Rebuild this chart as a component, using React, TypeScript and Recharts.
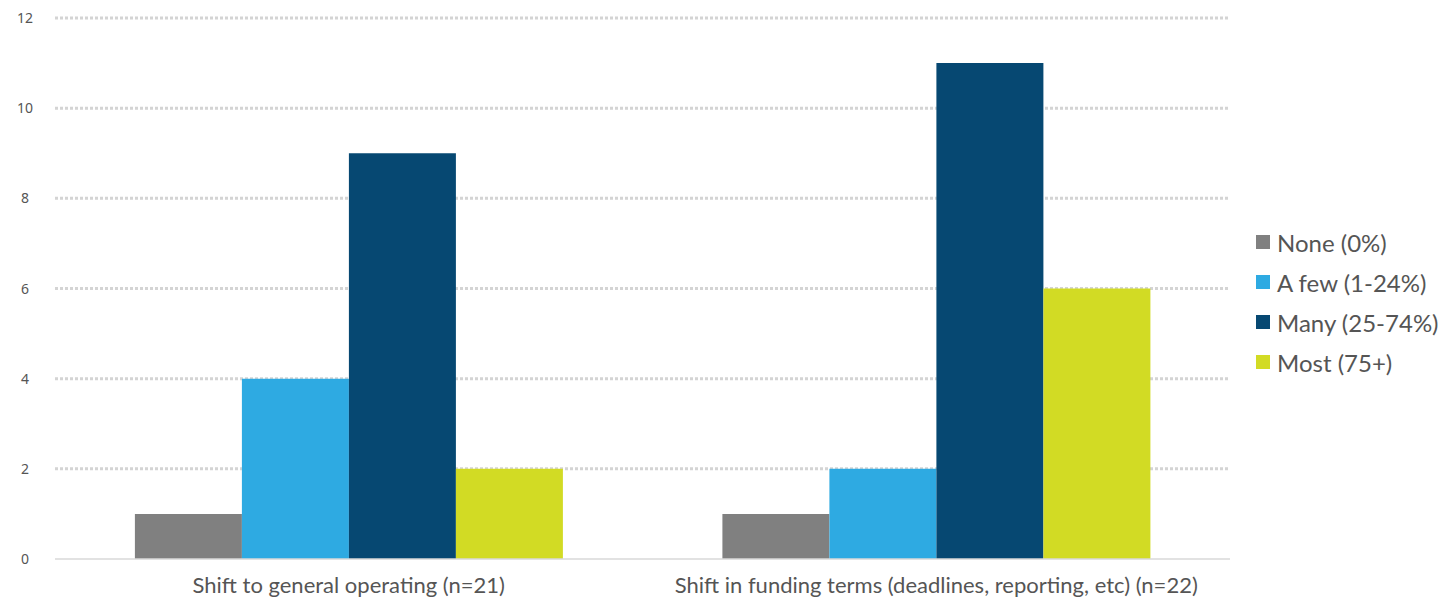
import { Bar, BarChart, CartesianGrid, Legend, XAxis, YAxis } from "recharts";

const categories = [
  "Shift to general operating (n=21)",
  "Shift in funding terms (deadlines, reporting, etc) (n=22)",
];
const noneValues = [1, 1];
const fewValues = [4, 2];
const manyValues = [9, 11];
const mostValues = [2, 6];
const yTicks = [0, 2, 4, 6, 8, 10, 12];
// dotted guides above the baseline; the baseline itself is the solid axis line
const gridValues = [2, 4, 6, 8, 10, 12];

const SERIES = [
  { key: "none", name: "None (0%)", color: "#808080" },
  { key: "few", name: "A few (1-24%)", color: "#2eaae2" },
  { key: "many", name: "Many (25-74%)", color: "#064872" },
  { key: "most", name: "Most (75+)", color: "#d2db24" },
];

const data = categories.map((name, i) => ({
  name,
  none: noneValues[i],
  few: fewValues[i],
  many: manyValues[i],
  most: mostValues[i],
}));

const TEXT_COLOR = "#555555";
const LABEL_FONT = "Lato, 'Open Sans', sans-serif";
const LEGEND_WIDTH = 184;

function YTick({ y, payload }: { y?: number; payload?: { value: number } }) {
  return (
    <text
      x={25}
      y={y}
      dy={5}
      textAnchor="middle"
      fill={TEXT_COLOR}
      fontSize={14}
      fontFamily="'Noto Sans', sans-serif"
    >
      {payload?.value}
    </text>
  );
}

function XTick({ x, y, payload }: { x?: number; y?: number; payload?: { value: string } }) {
  return (
    <text
      x={x}
      y={(y ?? 0) + 26}
      textAnchor="middle"
      fill={TEXT_COLOR}
      fontSize={22}
      fontFamily={LABEL_FONT}
    >
      {payload?.value}
    </text>
  );
}

function LegendList() {
  return (
    <div style={{ fontFamily: LABEL_FONT, fontSize: 24, color: TEXT_COLOR }}>
      {SERIES.map((s) => (
        <div key={s.key} style={{ display: "flex", alignItems: "center", height: 40 }}>
          <span
            style={{
              width: 14,
              height: 14,
              background: s.color,
              display: "inline-block",
              marginRight: 7,
            }}
          />
          <span>{s.name}</span>
        </div>
      ))}
    </div>
  );
}

export default function App() {
  return (
    <div style={{ position: "absolute", left: 0, top: 0, width: 1440, height: 598, background: "#fff" }}>
      <BarChart
        width={1440}
        height={598}
        data={data}
        margin={{ top: 18, right: 210 - LEGEND_WIDTH, bottom: 0, left: 0 }}
        barCategoryGap="13.6%"
        barGap={0}
      >
        <CartesianGrid
          vertical={false}
          horizontalValues={gridValues}
          stroke="#d4d4d4"
          strokeWidth={3}
          strokeDasharray="3 2"
        />
        <XAxis
          dataKey="name"
          height={39}
          axisLine={{ stroke: "#d9d9d9", strokeWidth: 1.5 }}
          tickLine={false}
          tick={<XTick />}
          interval={0}
        />
        <YAxis
          width={55}
          domain={[0, 12]}
          ticks={yTicks}
          axisLine={false}
          tickLine={false}
          tick={<YTick />}
        />
        <Legend
          layout="vertical"
          align="right"
          verticalAlign="top"
          width={LEGEND_WIDTH}
          wrapperStyle={{ left: 1256, top: 222, width: LEGEND_WIDTH }}
          content={<LegendList />}
        />
        {SERIES.map((s) => (
          <Bar key={s.key} dataKey={s.key} name={s.name} fill={s.color} isAnimationActive={false} />
        ))}
      </BarChart>
    </div>
  );
}
